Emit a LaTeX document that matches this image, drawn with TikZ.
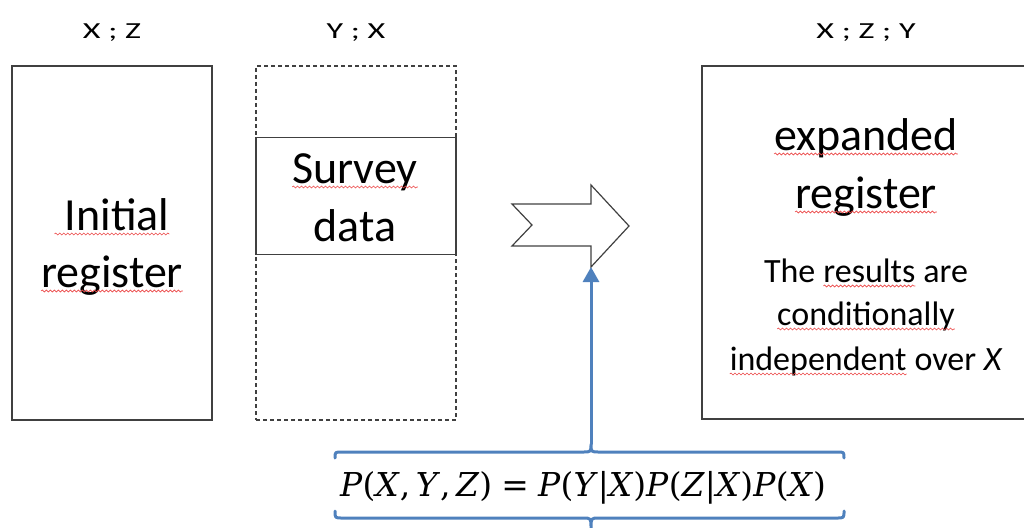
\documentclass[tikz,border=0pt]{standalone}
\usepackage{fontspec}
\setmainfont{Carlito}
\newfontfamily\formfont{DejaVu Serif}
\usepackage{graphicx}
\usetikzlibrary{arrows.meta,decorations.pathmorphing}
\definecolor{frame}{RGB}{64,64,64}
\definecolor{officeblue}{RGB}{79,129,189}
\definecolor{spellred}{RGB}{235,70,70}
\tikzset{
  panel/.style={draw=frame,line width=1.2pt,minimum width=200pt,inner sep=0pt,outer sep=0pt},
  hint/.style={panel,dash pattern=on 4pt off 3pt},
  head/.style={font=\fontsize{23}{27}\selectfont,anchor=base,inner sep=0pt},
  big/.style={font=\fontsize{46}{56}\selectfont,anchor=base,inner sep=0pt},
  small/.style={font=\fontsize{34}{44}\selectfont,anchor=base,inner sep=0pt},
  spell/.style={draw=spellred,line width=0.6pt,decorate,decoration={snake,amplitude=1pt,segment length=4pt}},
  blueline/.style={draw=officeblue,line width=3pt,line cap=round,line join=round},
  outline/.style={draw=frame,line width=1.2pt,line join=miter},
}
% wide heading lettering
\newcommand\wide[1]{\scalebox{1.48}[1]{#1}}
% italic variable in the factorisation
\newcommand\vr[1]{{\itshape #1\/}}
% word with a wavy spell-check underline
\newcommand\sq[1]{\tikz[baseline=(sqw.base)]{\node[inner sep=0pt,outer sep=0pt,anchor=base,draw=none](sqw){#1};\path[spell]([yshift=-4pt]sqw.base west)--([yshift=-4pt]sqw.base east);}}

\begin{document}
\begin{tikzpicture}[x=1pt,y=-1pt]
\useasboundingbox (0,0) rectangle (1024,527);
\clip (0,0) rectangle (1024,527);

% column headings
\node[head] (hx)  at (112,38) {\wide{X ; Z}};
\node[head] (hy)  at (356,38) {\wide{Y ; X}};
\node[head] (hxz) at (866,38) {\wide{X ; Z ; Y}};

% register boxes
\node[panel,minimum height=354pt] (initial) at (112,243) {};
\node[hint,minimum height=354pt] (survcol) at (356,243) {};
\node[panel,minimum height=117pt] (survey) at (356,196) {};
\node[panel,minimum width=328pt,minimum height=353pt] (expanded) at (866,242.5) {};

% box texts
\node[big] (t1) at (112,230) {\sq{\ Initial}};
\node[big] (t2) at (112,287) {\sq{register}};
\node[big] (t3) at (355,183) {\sq{Survey}};
\node[big] (t4) at (355,241) {data};
\node[big] (t5) at (866,150) {\sq{expanded}};
\node[big] (t6) at (866,208) {\sq{register}};
\node[small] (t7) at (866,282) {The \sq{results} are};
\node[small] (t8) at (866,325) {\sq{conditionally}};
\node[small] (t9) at (866,370) {\sq{independent} over \textit{X}};

% notched block arrow
\draw[outline] (512,204) -- (591,204) -- (591,185) -- (629,226) -- (591,267)
  -- (591,246) -- (512,246) -- (532,225) -- cycle;
\coordinate (headfoot) at (591,267);

% factorisation between braces
\node[anchor=base,inner sep=0pt] (formula) at (583,496)
  {\resizebox{486pt}{!}{\formfont\fontsize{30}{36}\selectfont
   \vr{P}(\vr{X},\,\vr{Y},\,\vr{Z})\hspace{0.28em}=\hspace{0.28em}\vr{P}(\vr{Y}|\vr{X})\vr{P}(\vr{Z}|\vr{X})\vr{P}(\vr{X})}};
\coordinate (stem) at (591,444);
\draw[blueline] (335,458) .. controls (335,452) .. (342,452) -- (583,452)
  .. controls (591,452) .. (stem) .. controls (591,452) .. (599,452)
  -- (837,452) .. controls (844,452) .. (844,458);
\draw[blueline] (335,511) .. controls (335,518) .. (342,518) -- (583,518)
  .. controls (591,518) .. (591,528) .. controls (591,518) .. (599,518)
  -- (837,518) .. controls (844,518) .. (844,511);
\draw[blueline,-{Triangle[length=15pt,width=16pt]}] (stem) -- (headfoot);
\end{tikzpicture}
\end{document}
